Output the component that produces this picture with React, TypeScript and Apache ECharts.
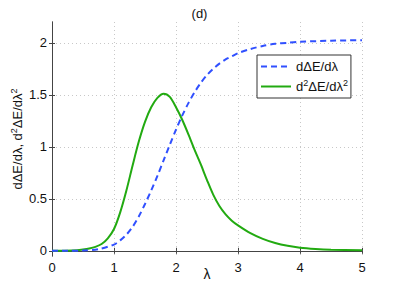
import React, { useEffect, useRef } from "react";
import * as echarts from "echarts";

const titleText = "(d)";
const seriesNames = ["dΔE/dλ", "d²ΔE/dλ²"];
const legendRich = ["dΔE/dλ", "d{sup|2}ΔE/dλ{sup|2}"];
const yAxisName = "dΔE/dλ, d{sup|2}ΔE/dλ{sup|2}";
const xAxisName = "λ";
const xTicks = [0, 1, 2, 3, 4, 5];
const yTicks = [0, 0.5, 1, 1.5, 2];

const lambdaFirst = [0, 0.25, 0.5, 0.75, 1.0, 1.1, 1.2, 1.3, 1.4, 1.5, 1.6, 1.7, 1.8, 1.9, 2.0, 2.1, 2.2, 2.3, 2.4, 2.5, 2.6, 2.7, 2.8, 2.9, 3.0, 3.2, 3.4, 3.6, 3.8, 4.0, 4.5, 5.0];
const firstDeriv = [0, 0.0, 0.003, 0.015, 0.06, 0.1, 0.155, 0.23, 0.33, 0.45, 0.58, 0.72, 0.87, 1.02, 1.165, 1.3, 1.42, 1.525, 1.615, 1.69, 1.75, 1.8, 1.84, 1.87, 1.9, 1.94, 1.97, 1.99, 2.0, 2.01, 2.02, 2.025];

const lambdaSecond = [0, 0.2, 0.4, 0.5, 0.6, 0.7, 0.8, 0.9, 1.0, 1.1, 1.2, 1.3, 1.4, 1.5, 1.6, 1.7, 1.8, 1.9, 2.0, 2.1, 2.2, 2.3, 2.4, 2.5, 2.6, 2.7, 2.8, 2.9, 3.0, 3.2, 3.4, 3.6, 3.8, 4.0, 4.25, 4.5, 5.0];
const secondDeriv = [0, 0.001, 0.005, 0.012, 0.022, 0.038, 0.065, 0.12, 0.21, 0.37, 0.58, 0.82, 1.05, 1.24, 1.38, 1.47, 1.51, 1.48, 1.38, 1.26, 1.12, 0.97, 0.83, 0.68, 0.54, 0.43, 0.35, 0.29, 0.245, 0.17, 0.115, 0.075, 0.048, 0.03, 0.018, 0.011, 0.005];

const FONT = "Liberation Sans, Arial, Helvetica, sans-serif";

export default function App() {
  const ref = useRef<HTMLDivElement>(null);
  useEffect(() => {
    if (!ref.current) return;
    const chart = echarts.init(ref.current, null, { renderer: "svg" });
    const axisLine = { show: true, lineStyle: { color: "#444", width: 1 } };
    const gridLine = { show: true, lineStyle: { color: "#c8c8c8", type: [1, 3] as any, width: 1 } };
    const tick = { show: true, inside: true, length: 3, lineStyle: { color: "#444" } };
    chart.setOption({
      animation: false,
      backgroundColor: "#fff",
      textStyle: { fontFamily: FONT },
      title: {
        text: titleText,
        left: "center",
        top: 2,
        textStyle: { fontSize: 13, fontWeight: "normal", color: "#111", fontFamily: FONT },
      },
      legend: {
        left: 257,
        top: 55,
        orient: "vertical",
        backgroundColor: "#fff",
        borderColor: "#333",
        borderWidth: 1,
        padding: [3, 3, 3, 3],
        itemGap: 3,
        itemWidth: 30,
        itemHeight: 14,
        itemStyle: { opacity: 0 },
        formatter: (name: string) => legendRich[seriesNames.indexOf(name)],
        textStyle: {
          fontSize: 13,
          color: "#111",
          fontFamily: FONT,
          lineHeight: 17,
          rich: { sup: { fontSize: 9, verticalAlign: "top", lineHeight: 17, color: "#111", fontFamily: FONT } },
        },
        data: seriesNames,
      },
      grid: { left: 52, top: 22, right: 37, bottom: 35, show: false, outerBoundsMode: "none", containLabel: false },
      xAxis: [
        {
          type: "value",
          min: 0,
          max: 5,
          interval: 1,
          name: xAxisName,
          nameLocation: "middle",
          nameGap: 11,
          nameMoveOverlap: false,
          nameTextStyle: { fontSize: 14, color: "#111", fontFamily: FONT, verticalAlign: "top" },
          axisLine,
          axisTick: { ...tick, customValues: xTicks },
          axisLabel: { fontSize: 13, color: "#111", margin: 5, fontFamily: FONT, customValues: xTicks },
          splitLine: gridLine,
        },
        {
          type: "value",
          position: "top",
          min: 0,
          max: 5,
          interval: 1,
          axisLine,
          axisTick: tick,
          axisLabel: { show: false },
          splitLine: { show: false },
        },
      ],
      yAxis: [
        {
          type: "value",
          min: -0.05,
          max: 2.2,
          name: yAxisName,
          nameLocation: "middle",
          nameGap: 26,
          nameMoveOverlap: false,
          nameTextStyle: {
            fontSize: 13,
            color: "#111",
            fontFamily: FONT,
            lineHeight: 17,
            rich: { sup: { fontSize: 9, verticalAlign: "top", lineHeight: 17, color: "#111", fontFamily: FONT } },
          },
          axisLine,
          axisTick: { ...tick, customValues: yTicks },
          axisLabel: { fontSize: 13, color: "#111", margin: 5, fontFamily: FONT, customValues: yTicks },
          splitLine: gridLine,
        },
        {
          type: "value",
          position: "right",
          min: -0.05,
          max: 2.2,
          axisLine,
          axisTick: { ...tick, customValues: yTicks },
          axisLabel: { show: false },
          splitLine: { show: false },
        },
      ],
      series: [
        {
          name: seriesNames[0],
          type: "line",
          xAxisIndex: 0,
          yAxisIndex: 0,
          smooth: 0.3,
          symbol: "none",
          data: lambdaFirst.map((x, i) => [x, firstDeriv[i]]),
          lineStyle: { color: "#3050ff", width: 2, type: [6, 4] },
          itemStyle: { color: "#3050ff" },
          z: 3,
        },
        {
          name: seriesNames[1],
          type: "line",
          xAxisIndex: 0,
          yAxisIndex: 0,
          smooth: 0.3,
          symbol: "none",
          data: lambdaSecond.map((x, i) => [x, secondDeriv[i]]),
          lineStyle: { color: "#22aa11", width: 2, type: "solid" },
          itemStyle: { color: "#22aa11" },
          z: 2,
        },
      ],
    });
    return () => chart.dispose();
  }, []);
  return <div ref={ref} style={{ width: 399, height: 291, position: "fixed", left: 0, top: 0 }} />;
}
